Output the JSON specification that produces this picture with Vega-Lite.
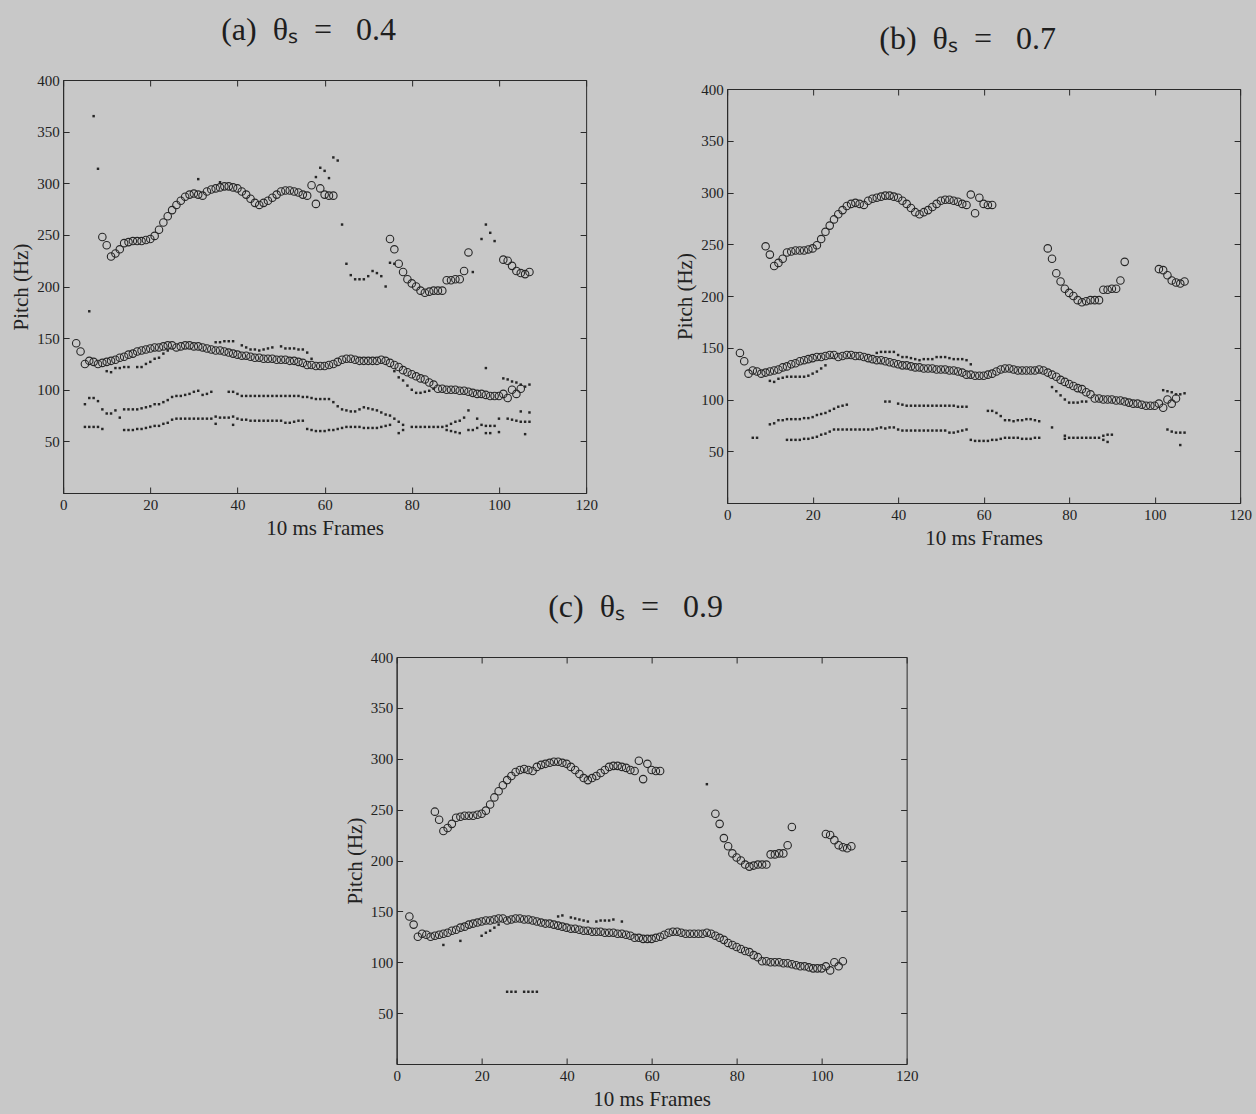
{
"$schema": "https://vega.github.io/schema/vega-lite/v6.json",
"background": "#c8c8c8",
"padding": {"left": 10, "top": 13, "right": 4, "bottom": 5},
"config": {
 "view": {"stroke": "#2a2a2a", "strokeWidth": 1},
 "font": "Liberation Serif",
 "title": {"font": "Liberation Serif", "fontSize": 32, "fontWeight": "normal", "color": "#1e1e1e", "offset": 26, "dx": -16},
 "axis": {"labelFont": "Liberation Serif", "labelFontSize": 15, "titleFont": "Liberation Serif", "titleFontSize": 21, "titleFontWeight": "normal", "labelColor": "#222", "titleColor": "#222", "domainColor": "#2a2a2a", "tickColor": "#2a2a2a", "tickSize": -6, "grid": false, "labelPadding": 10, "titlePadding": 5, "labelFlush": false}
},
"datasets": {
"circ": [
{"f":9,"p":248},{"f":10,"p":240},{"f":11,"p":229},{"f":12,"p":232},{"f":13,"p":236},{"f":14,"p":242},{"f":15,"p":243},{"f":16,"p":244},{"f":17,"p":244},{"f":18,"p":244},{"f":19,"p":245},{"f":20,"p":246},{"f":21,"p":249},{"f":22,"p":255},{"f":23,"p":262},{"f":24,"p":268},{"f":25,"p":274},{"f":26,"p":279},{"f":27,"p":283},{"f":28,"p":287},{"f":29,"p":289},{"f":30,"p":290},{"f":31,"p":289},{"f":32,"p":288},{"f":33,"p":292},{"f":34,"p":294},{"f":35,"p":295},{"f":36,"p":296},{"f":37,"p":297},{"f":38,"p":297},{"f":39,"p":296},{"f":40,"p":295},{"f":41,"p":292},{"f":42,"p":289},{"f":43,"p":285},{"f":44,"p":281},{"f":45,"p":279},{"f":46,"p":281},{"f":47,"p":283},{"f":48,"p":286},{"f":49,"p":289},{"f":50,"p":292},{"f":51,"p":293},{"f":52,"p":293},{"f":53,"p":292},{"f":54,"p":291},{"f":55,"p":289},{"f":56,"p":288},{"f":57,"p":298},{"f":58,"p":280},{"f":59,"p":295},{"f":60,"p":289},{"f":61,"p":288},{"f":62,"p":288},
{"f":75,"p":246},{"f":76,"p":236},{"f":77,"p":222},{"f":78,"p":214},{"f":79,"p":207},{"f":80,"p":203},{"f":81,"p":200},{"f":82,"p":196},{"f":83,"p":194},{"f":84,"p":195},{"f":85,"p":196},{"f":86,"p":196},{"f":87,"p":196},{"f":88,"p":206},{"f":89,"p":206},{"f":90,"p":207},{"f":91,"p":207},{"f":92,"p":215},{"f":93,"p":233},
{"f":101,"p":226},{"f":102,"p":225},{"f":103,"p":220},{"f":104,"p":215},{"f":105,"p":213},{"f":106,"p":212},{"f":107,"p":214},
{"f":3,"p":145},{"f":4,"p":137},{"f":5,"p":125},{"f":6,"p":128},{"f":7,"p":127},{"f":8,"p":125},{"f":9,"p":126},{"f":10,"p":127},{"f":11,"p":128},{"f":12,"p":129},{"f":13,"p":131},{"f":14,"p":132},{"f":15,"p":134},{"f":16,"p":135},{"f":17,"p":137},{"f":18,"p":138},{"f":19,"p":139},{"f":20,"p":140},{"f":21,"p":141},{"f":22,"p":141},{"f":23,"p":142},{"f":24,"p":143},{"f":25,"p":143},{"f":26,"p":141},{"f":27,"p":142},{"f":28,"p":143},{"f":29,"p":143},{"f":30,"p":142},{"f":31,"p":142},{"f":32,"p":141},{"f":33,"p":140},{"f":34,"p":139},{"f":35,"p":138},{"f":36,"p":138},{"f":37,"p":137},{"f":38,"p":136},{"f":39,"p":135},{"f":40,"p":134},{"f":41,"p":133},{"f":42,"p":133},{"f":43,"p":132},{"f":44,"p":131},{"f":45,"p":131},{"f":46,"p":130},{"f":47,"p":130},{"f":48,"p":130},{"f":49,"p":129},{"f":50,"p":129},{"f":51,"p":129},{"f":52,"p":128},{"f":53,"p":128},{"f":54,"p":127},{"f":55,"p":126},{"f":56,"p":124},{"f":57,"p":124},{"f":58,"p":123},{"f":59,"p":123},{"f":60,"p":123},{"f":61,"p":124},{"f":62,"p":125},{"f":63,"p":127},{"f":64,"p":129},{"f":65,"p":130},{"f":66,"p":130},{"f":67,"p":129},{"f":68,"p":128},{"f":69,"p":128},{"f":70,"p":128},{"f":71,"p":128},{"f":72,"p":128},{"f":73,"p":129},{"f":74,"p":128},{"f":75,"p":126},{"f":76,"p":124},{"f":77,"p":122},{"f":78,"p":119},{"f":79,"p":117},{"f":80,"p":115},{"f":81,"p":113},{"f":82,"p":111},{"f":83,"p":110},{"f":84,"p":107},{"f":85,"p":105},{"f":86,"p":101},{"f":87,"p":101},{"f":88,"p":100},{"f":89,"p":100},{"f":90,"p":100},{"f":91,"p":99},{"f":92,"p":99},{"f":93,"p":98},{"f":94,"p":97},{"f":95,"p":96},{"f":96,"p":96},{"f":97,"p":95},{"f":98,"p":94},{"f":99,"p":94},{"f":100,"p":94},{"f":101,"p":96},{"f":102,"p":92},{"f":103,"p":100},{"f":104,"p":96},{"f":105,"p":101}
],
"dots": [
{"g":"a","f":6,"p":176},{"g":"a","f":7,"p":365},{"g":"a","f":8,"p":314},{"g":"a","f":31,"p":304},{"g":"a","f":36,"p":301},{"g":"a","f":58,"p":306},{"g":"a","f":59,"p":315},{"g":"a","f":60,"p":312},{"g":"a","f":61,"p":305},{"g":"a","f":62,"p":325},{"g":"a","f":63,"p":322},{"g":"a","f":64,"p":260},{"g":"a","f":65,"p":222},{"g":"a","f":66,"p":211},{"g":"a","f":67,"p":207},{"g":"a","f":68,"p":207},{"g":"a","f":69,"p":207},{"g":"a","f":70,"p":210},{"g":"a","f":71,"p":215},{"g":"a","f":72,"p":213},{"g":"a","f":73,"p":210},{"g":"a","f":74,"p":200},{"g":"a","f":75,"p":223},{"g":"a","f":76,"p":222},{"g":"a","f":94,"p":214},{"g":"a","f":96,"p":246},{"g":"a","f":97,"p":260},{"g":"a","f":98,"p":252},{"g":"a","f":99,"p":244},
{"g":"a","f":10,"p":118},{"g":"a","f":11,"p":117},{"g":"a","f":12,"p":121},{"g":"a","f":13,"p":121},{"g":"a","f":14,"p":122},{"g":"a","f":15,"p":122},{"g":"a","f":17,"p":122},{"g":"a","f":18,"p":122},{"g":"a","f":19,"p":125},{"g":"a","f":20,"p":127},{"g":"a","f":21,"p":130},{"g":"a","f":22,"p":131},{"g":"a","f":23,"p":135},{"g":"a","f":24,"p":138},
{"g":"a","f":35,"p":146},{"g":"a","f":36,"p":146},{"g":"a","f":37,"p":147},{"g":"a","f":38,"p":147},{"g":"a","f":39,"p":147},{"g":"a","f":41,"p":143},{"g":"a","f":42,"p":141},{"g":"a","f":43,"p":139},{"g":"a","f":44,"p":139},{"g":"a","f":45,"p":138},{"g":"a","f":46,"p":139},{"g":"a","f":47,"p":140},{"g":"a","f":48,"p":141},{"g":"a","f":50,"p":142},{"g":"a","f":51,"p":140},{"g":"a","f":52,"p":140},{"g":"a","f":53,"p":140},{"g":"a","f":54,"p":139},{"g":"a","f":55,"p":139},{"g":"a","f":56,"p":136},{"g":"a","f":57,"p":130},
{"g":"a","f":76,"p":118},{"g":"a","f":77,"p":112},{"g":"a","f":78,"p":109},{"g":"a","f":79,"p":104},{"g":"a","f":80,"p":100},{"g":"a","f":81,"p":97},{"g":"a","f":82,"p":97},{"g":"a","f":83,"p":98},{"g":"a","f":84,"p":99},{"g":"a","f":85,"p":101},{"g":"a","f":97,"p":121},{"g":"a","f":101,"p":111},{"g":"a","f":102,"p":110},{"g":"a","f":103,"p":108},{"g":"a","f":104,"p":107},{"g":"a","f":105,"p":105},{"g":"a","f":106,"p":103},{"g":"a","f":107,"p":105},
{"g":"a","f":5,"p":86},{"g":"a","f":6,"p":92},{"g":"a","f":7,"p":92},{"g":"a","f":8,"p":89},{"g":"a","f":9,"p":81},{"g":"a","f":10,"p":77},{"g":"a","f":11,"p":77},{"g":"a","f":12,"p":80},{"g":"a","f":13,"p":73},{"g":"a","f":14,"p":81},{"g":"a","f":15,"p":81},{"g":"a","f":16,"p":81},{"g":"a","f":17,"p":81},{"g":"a","f":18,"p":82},{"g":"a","f":19,"p":83},{"g":"a","f":20,"p":84},{"g":"a","f":21,"p":86},{"g":"a","f":22,"p":86},{"g":"a","f":23,"p":88},{"g":"a","f":24,"p":90},{"g":"a","f":25,"p":93},{"g":"a","f":26,"p":94},{"g":"a","f":27,"p":94},{"g":"a","f":28,"p":95},{"g":"a","f":29,"p":96},{"g":"a","f":30,"p":98},{"g":"a","f":31,"p":99},{"g":"a","f":32,"p":95},{"g":"a","f":33,"p":96},{"g":"a","f":34,"p":98},{"g":"a","f":38,"p":98},{"g":"a","f":39,"p":98},{"g":"a","f":40,"p":96},{"g":"a","f":41,"p":94},{"g":"a","f":42,"p":94},{"g":"a","f":43,"p":94},{"g":"a","f":44,"p":94},{"g":"a","f":45,"p":94},{"g":"a","f":46,"p":94},{"g":"a","f":47,"p":94},{"g":"a","f":48,"p":94},{"g":"a","f":49,"p":94},{"g":"a","f":50,"p":94},{"g":"a","f":51,"p":94},{"g":"a","f":52,"p":94},{"g":"a","f":53,"p":94},{"g":"a","f":54,"p":94},{"g":"a","f":55,"p":93},{"g":"a","f":56,"p":93},{"g":"a","f":57,"p":92},{"g":"a","f":58,"p":91},{"g":"a","f":59,"p":91},{"g":"a","f":60,"p":91},{"g":"a","f":61,"p":91},{"g":"a","f":62,"p":88},{"g":"a","f":63,"p":84},{"g":"a","f":64,"p":81},{"g":"a","f":65,"p":80},{"g":"a","f":66,"p":79},{"g":"a","f":67,"p":79},{"g":"a","f":68,"p":81},{"g":"a","f":69,"p":83},{"g":"a","f":70,"p":82},{"g":"a","f":71,"p":81},{"g":"a","f":72,"p":80},{"g":"a","f":73,"p":78},{"g":"a","f":74,"p":76},{"g":"a","f":75,"p":75},{"g":"a","f":76,"p":72},{"g":"a","f":77,"p":69},{"g":"a","f":78,"p":66},
{"g":"a","f":5,"p":64},{"g":"a","f":6,"p":64},{"g":"a","f":7,"p":64},{"g":"a","f":8,"p":64},{"g":"a","f":9,"p":62},{"g":"a","f":14,"p":61},{"g":"a","f":15,"p":61},{"g":"a","f":16,"p":61},{"g":"a","f":17,"p":62},{"g":"a","f":18,"p":62},{"g":"a","f":19,"p":63},{"g":"a","f":20,"p":64},{"g":"a","f":21,"p":65},{"g":"a","f":22,"p":65},{"g":"a","f":23,"p":67},{"g":"a","f":24,"p":68},{"g":"a","f":25,"p":71},{"g":"a","f":26,"p":72},{"g":"a","f":27,"p":72},{"g":"a","f":28,"p":72},{"g":"a","f":29,"p":72},{"g":"a","f":30,"p":72},{"g":"a","f":31,"p":72},{"g":"a","f":32,"p":72},{"g":"a","f":33,"p":72},{"g":"a","f":34,"p":72},{"g":"a","f":35,"p":74},{"g":"a","f":36,"p":73},{"g":"a","f":37,"p":73},{"g":"a","f":38,"p":73},{"g":"a","f":39,"p":74},{"g":"a","f":35,"p":67},{"g":"a","f":39,"p":66},{"g":"a","f":40,"p":72},{"g":"a","f":41,"p":71},{"g":"a","f":42,"p":71},{"g":"a","f":43,"p":70},{"g":"a","f":44,"p":70},{"g":"a","f":45,"p":70},{"g":"a","f":46,"p":70},{"g":"a","f":47,"p":70},{"g":"a","f":48,"p":70},{"g":"a","f":49,"p":70},{"g":"a","f":50,"p":70},{"g":"a","f":51,"p":68},{"g":"a","f":52,"p":68},{"g":"a","f":53,"p":69},{"g":"a","f":54,"p":70},{"g":"a","f":55,"p":70},{"g":"a","f":56,"p":62},{"g":"a","f":57,"p":61},{"g":"a","f":58,"p":60},{"g":"a","f":59,"p":60},{"g":"a","f":60,"p":60},{"g":"a","f":61,"p":61},{"g":"a","f":62,"p":61},{"g":"a","f":63,"p":62},{"g":"a","f":64,"p":63},{"g":"a","f":65,"p":64},{"g":"a","f":66,"p":64},{"g":"a","f":67,"p":64},{"g":"a","f":68,"p":64},{"g":"a","f":69,"p":63},{"g":"a","f":70,"p":63},{"g":"a","f":71,"p":63},{"g":"a","f":72,"p":63},{"g":"a","f":73,"p":64},{"g":"a","f":74,"p":65},{"g":"a","f":75,"p":66},{"g":"a","f":77,"p":58},{"g":"a","f":78,"p":61},{"g":"a","f":80,"p":64},{"g":"a","f":81,"p":64},{"g":"a","f":82,"p":64},{"g":"a","f":83,"p":64},{"g":"a","f":84,"p":64},{"g":"a","f":85,"p":64},{"g":"a","f":86,"p":64},{"g":"a","f":87,"p":64},{"g":"a","f":88,"p":65},{"g":"a","f":89,"p":67},{"g":"a","f":90,"p":69},{"g":"a","f":91,"p":70},{"g":"a","f":92,"p":73},{"g":"a","f":93,"p":80},{"g":"a","f":88,"p":61},{"g":"a","f":89,"p":60},{"g":"a","f":90,"p":59},{"g":"a","f":91,"p":58},{"g":"a","f":93,"p":61},{"g":"a","f":94,"p":61},{"g":"a","f":95,"p":63},{"g":"a","f":95,"p":72},{"g":"a","f":96,"p":66},{"g":"a","f":97,"p":65},{"g":"a","f":98,"p":65},{"g":"a","f":99,"p":65},{"g":"a","f":97,"p":58},{"g":"a","f":98,"p":58},{"g":"a","f":100,"p":59},{"g":"a","f":100,"p":72},{"g":"a","f":102,"p":72},{"g":"a","f":103,"p":71},{"g":"a","f":104,"p":70},{"g":"a","f":105,"p":69},{"g":"a","f":106,"p":69},{"g":"a","f":107,"p":69},{"g":"a","f":105,"p":79},{"g":"a","f":107,"p":78},{"g":"a","f":106,"p":57},
{"g":"b","f":10,"p":118},{"g":"b","f":11,"p":117},{"g":"b","f":12,"p":120},{"g":"b","f":13,"p":121},{"g":"b","f":14,"p":122},{"g":"b","f":15,"p":122},{"g":"b","f":16,"p":122},{"g":"b","f":17,"p":122},{"g":"b","f":18,"p":122},{"g":"b","f":19,"p":123},{"g":"b","f":20,"p":125},{"g":"b","f":21,"p":127},{"g":"b","f":22,"p":130},{"g":"b","f":23,"p":133},
{"g":"b","f":35,"p":145},{"g":"b","f":36,"p":146},{"g":"b","f":37,"p":146},{"g":"b","f":38,"p":146},{"g":"b","f":39,"p":146},{"g":"b","f":40,"p":143},{"g":"b","f":41,"p":141},{"g":"b","f":42,"p":141},{"g":"b","f":43,"p":140},{"g":"b","f":44,"p":139},{"g":"b","f":45,"p":138},{"g":"b","f":46,"p":139},{"g":"b","f":47,"p":139},{"g":"b","f":48,"p":139},{"g":"b","f":49,"p":141},{"g":"b","f":50,"p":141},{"g":"b","f":51,"p":141},{"g":"b","f":52,"p":140},{"g":"b","f":53,"p":139},{"g":"b","f":54,"p":139},{"g":"b","f":55,"p":139},{"g":"b","f":56,"p":138},{"g":"b","f":57,"p":134},
{"g":"b","f":76,"p":112},{"g":"b","f":77,"p":108},{"g":"b","f":78,"p":104},{"g":"b","f":79,"p":100},{"g":"b","f":80,"p":97},{"g":"b","f":81,"p":97},{"g":"b","f":82,"p":97},{"g":"b","f":83,"p":98},{"g":"b","f":84,"p":98},{"g":"b","f":76,"p":73},
{"g":"b","f":102,"p":109},{"g":"b","f":103,"p":108},{"g":"b","f":104,"p":107},{"g":"b","f":105,"p":105},{"g":"b","f":106,"p":105},{"g":"b","f":107,"p":106},
{"g":"b","f":10,"p":76},{"g":"b","f":11,"p":77},{"g":"b","f":12,"p":80},{"g":"b","f":13,"p":80},{"g":"b","f":14,"p":81},{"g":"b","f":15,"p":81},{"g":"b","f":16,"p":81},{"g":"b","f":17,"p":81},{"g":"b","f":18,"p":82},{"g":"b","f":19,"p":82},{"g":"b","f":20,"p":83},{"g":"b","f":21,"p":85},{"g":"b","f":22,"p":86},{"g":"b","f":23,"p":87},{"g":"b","f":24,"p":89},{"g":"b","f":25,"p":91},{"g":"b","f":26,"p":93},{"g":"b","f":27,"p":94},{"g":"b","f":28,"p":95},{"g":"b","f":37,"p":98},{"g":"b","f":38,"p":98},{"g":"b","f":40,"p":96},{"g":"b","f":41,"p":95},{"g":"b","f":42,"p":94},{"g":"b","f":43,"p":94},{"g":"b","f":44,"p":94},{"g":"b","f":45,"p":94},{"g":"b","f":46,"p":94},{"g":"b","f":47,"p":94},{"g":"b","f":48,"p":94},{"g":"b","f":49,"p":94},{"g":"b","f":50,"p":94},{"g":"b","f":51,"p":94},{"g":"b","f":52,"p":94},{"g":"b","f":53,"p":94},{"g":"b","f":54,"p":93},{"g":"b","f":55,"p":93},{"g":"b","f":56,"p":93},{"g":"b","f":61,"p":89},{"g":"b","f":62,"p":89},{"g":"b","f":63,"p":87},{"g":"b","f":64,"p":84},{"g":"b","f":65,"p":80},{"g":"b","f":66,"p":80},{"g":"b","f":67,"p":79},{"g":"b","f":68,"p":80},{"g":"b","f":69,"p":80},{"g":"b","f":70,"p":81},{"g":"b","f":71,"p":81},{"g":"b","f":72,"p":80},{"g":"b","f":73,"p":79},
{"g":"b","f":6,"p":63},{"g":"b","f":7,"p":63},{"g":"b","f":14,"p":61},{"g":"b","f":15,"p":61},{"g":"b","f":16,"p":61},{"g":"b","f":17,"p":61},{"g":"b","f":18,"p":62},{"g":"b","f":19,"p":62},{"g":"b","f":20,"p":63},{"g":"b","f":21,"p":64},{"g":"b","f":22,"p":66},{"g":"b","f":23,"p":67},{"g":"b","f":24,"p":69},{"g":"b","f":25,"p":71},{"g":"b","f":26,"p":71},{"g":"b","f":27,"p":71},{"g":"b","f":28,"p":71},{"g":"b","f":29,"p":71},{"g":"b","f":30,"p":71},{"g":"b","f":31,"p":71},{"g":"b","f":32,"p":71},{"g":"b","f":33,"p":71},{"g":"b","f":34,"p":71},{"g":"b","f":35,"p":72},{"g":"b","f":36,"p":73},{"g":"b","f":37,"p":72},{"g":"b","f":38,"p":73},{"g":"b","f":39,"p":73},{"g":"b","f":40,"p":71},{"g":"b","f":41,"p":70},{"g":"b","f":42,"p":70},{"g":"b","f":43,"p":70},{"g":"b","f":44,"p":70},{"g":"b","f":45,"p":70},{"g":"b","f":46,"p":70},{"g":"b","f":47,"p":70},{"g":"b","f":48,"p":70},{"g":"b","f":49,"p":70},{"g":"b","f":50,"p":70},{"g":"b","f":51,"p":70},{"g":"b","f":52,"p":68},{"g":"b","f":53,"p":68},{"g":"b","f":54,"p":69},{"g":"b","f":55,"p":70},{"g":"b","f":56,"p":71},{"g":"b","f":57,"p":61},{"g":"b","f":58,"p":60},{"g":"b","f":59,"p":60},{"g":"b","f":60,"p":60},{"g":"b","f":61,"p":60},{"g":"b","f":62,"p":61},{"g":"b","f":63,"p":61},{"g":"b","f":64,"p":62},{"g":"b","f":65,"p":63},{"g":"b","f":66,"p":63},{"g":"b","f":67,"p":63},{"g":"b","f":68,"p":63},{"g":"b","f":69,"p":62},{"g":"b","f":70,"p":62},{"g":"b","f":71,"p":62},{"g":"b","f":72,"p":63},{"g":"b","f":73,"p":63},
{"g":"b","f":79,"p":65},{"g":"b","f":79,"p":62},{"g":"b","f":80,"p":63},{"g":"b","f":81,"p":63},{"g":"b","f":82,"p":63},{"g":"b","f":83,"p":63},{"g":"b","f":84,"p":63},{"g":"b","f":85,"p":63},{"g":"b","f":86,"p":63},{"g":"b","f":87,"p":63},{"g":"b","f":88,"p":65},{"g":"b","f":89,"p":66},{"g":"b","f":90,"p":66},{"g":"b","f":88,"p":61},{"g":"b","f":89,"p":59},
{"g":"b","f":103,"p":71},{"g":"b","f":104,"p":69},{"g":"b","f":105,"p":68},{"g":"b","f":106,"p":68},{"g":"b","f":107,"p":68},{"g":"b","f":106,"p":56},
{"g":"c","f":11,"p":117},{"g":"c","f":15,"p":121},{"g":"c","f":20,"p":126},{"g":"c","f":21,"p":129},{"g":"c","f":22,"p":131},{"g":"c","f":23,"p":134},{"g":"c","f":24,"p":137},{"g":"c","f":38,"p":145},{"g":"c","f":39,"p":146},{"g":"c","f":41,"p":144},{"g":"c","f":42,"p":143},{"g":"c","f":43,"p":142},{"g":"c","f":44,"p":141},{"g":"c","f":45,"p":140},{"g":"c","f":47,"p":140},{"g":"c","f":48,"p":141},{"g":"c","f":49,"p":141},{"g":"c","f":50,"p":141},{"g":"c","f":51,"p":142},{"g":"c","f":53,"p":140},{"g":"c","f":26,"p":71},{"g":"c","f":27,"p":71},{"g":"c","f":28,"p":71},{"g":"c","f":30,"p":71},{"g":"c","f":31,"p":71},{"g":"c","f":32,"p":71},{"g":"c","f":33,"p":71},{"g":"c","f":73,"p":275}
]
},
"vconcat": [
 {"hconcat": [
  {"title": {"text": "(a)\u00a0 θₛ\u00a0 =\u00a0\u00a0 0.4"}, "width": 523, "height": 413,
   "layer": [
    {"data": {"name": "circ"}, "mark": {"type": "point", "shape": "circle", "size": 56, "filled": false, "stroke": "#262626", "strokeWidth": 1.1, "opacity": 1},
     "encoding": {"x": {"field": "f", "type": "quantitative", "scale": {"domain": [0, 120], "nice": false}, "axis": {"title": "10 ms Frames", "values": [0,20,40,60,80,100,120]}},
                  "y": {"field": "p", "type": "quantitative", "scale": {"domain": [0, 400], "nice": false}, "axis": {"title": "Pitch (Hz)", "values": [50,100,150,200,250,300,350,400]}}}},
    {"data": {"name": "dots"}, "transform": [{"filter": "datum.g == 'a'"}], "mark": {"type": "square", "size": 6, "color": "#262626", "opacity": 1},
     "encoding": {"x": {"field": "f", "type": "quantitative", "axis": {"orient": "top", "labels": false, "title": null, "domain": false, "values": [0,20,40,60,80,100,120]}},
                  "y": {"field": "p", "type": "quantitative", "axis": {"orient": "right", "labels": false, "title": null, "domain": false, "values": [50,100,150,200,250,300,350,400]}}}}
   ],
   "resolve": {"axis": {"x": "independent", "y": "independent"}}},
  {"vconcat": [
   {"width": 513, "height": 9, "view": {"stroke": null}, "data": {"values": []}, "mark": "point", "encoding": {}},
   {"title": {"text": "(b)\u00a0 θₛ\u00a0 =\u00a0\u00a0 0.7"}, "width": 513, "height": 414,
   "layer": [
    {"data": {"name": "circ"}, "mark": {"type": "point", "shape": "circle", "size": 56, "filled": false, "stroke": "#262626", "strokeWidth": 1.1, "opacity": 1},
     "encoding": {"x": {"field": "f", "type": "quantitative", "scale": {"domain": [0, 120], "nice": false}, "axis": {"title": "10 ms Frames", "values": [0,20,40,60,80,100,120]}},
                  "y": {"field": "p", "type": "quantitative", "scale": {"domain": [0, 400], "nice": false}, "axis": {"title": "Pitch (Hz)", "values": [50,100,150,200,250,300,350,400]}}}},
    {"data": {"name": "dots"}, "transform": [{"filter": "datum.g == 'b'"}], "mark": {"type": "square", "size": 6, "color": "#262626", "opacity": 1},
     "encoding": {"x": {"field": "f", "type": "quantitative", "axis": {"orient": "top", "labels": false, "title": null, "domain": false, "values": [0,20,40,60,80,100,120]}},
                  "y": {"field": "p", "type": "quantitative", "axis": {"orient": "right", "labels": false, "title": null, "domain": false, "values": [50,100,150,200,250,300,350,400]}}}}
   ],
   "resolve": {"axis": {"x": "independent", "y": "independent"}}}
  ], "spacing": -67}
 ], "spacing": 76},
 {"title": {"text": "(c)\u00a0 θₛ\u00a0 =\u00a0\u00a0 0.9"}, "width": 510, "height": 407,
   "layer": [
    {"data": {"name": "circ"}, "mark": {"type": "point", "shape": "circle", "size": 56, "filled": false, "stroke": "#262626", "strokeWidth": 1.1, "opacity": 1},
     "encoding": {"x": {"field": "f", "type": "quantitative", "scale": {"domain": [0, 120], "nice": false}, "axis": {"title": "10 ms Frames", "values": [0,20,40,60,80,100,120]}},
                  "y": {"field": "p", "type": "quantitative", "scale": {"domain": [0, 400], "nice": false}, "axis": {"title": "Pitch (Hz)", "values": [50,100,150,200,250,300,350,400]}}}},
    {"data": {"name": "dots"}, "transform": [{"filter": "datum.g == 'c'"}], "mark": {"type": "square", "size": 6, "color": "#262626", "opacity": 1},
     "encoding": {"x": {"field": "f", "type": "quantitative", "axis": {"orient": "top", "labels": false, "title": null, "domain": false, "values": [0,20,40,60,80,100,120]}},
                  "y": {"field": "p", "type": "quantitative", "axis": {"orient": "right", "labels": false, "title": null, "domain": false, "values": [50,100,150,200,250,300,350,400]}}}}
   ],
   "resolve": {"axis": {"x": "independent", "y": "independent"}}}
],
"spacing": 41,
"center": true
}
